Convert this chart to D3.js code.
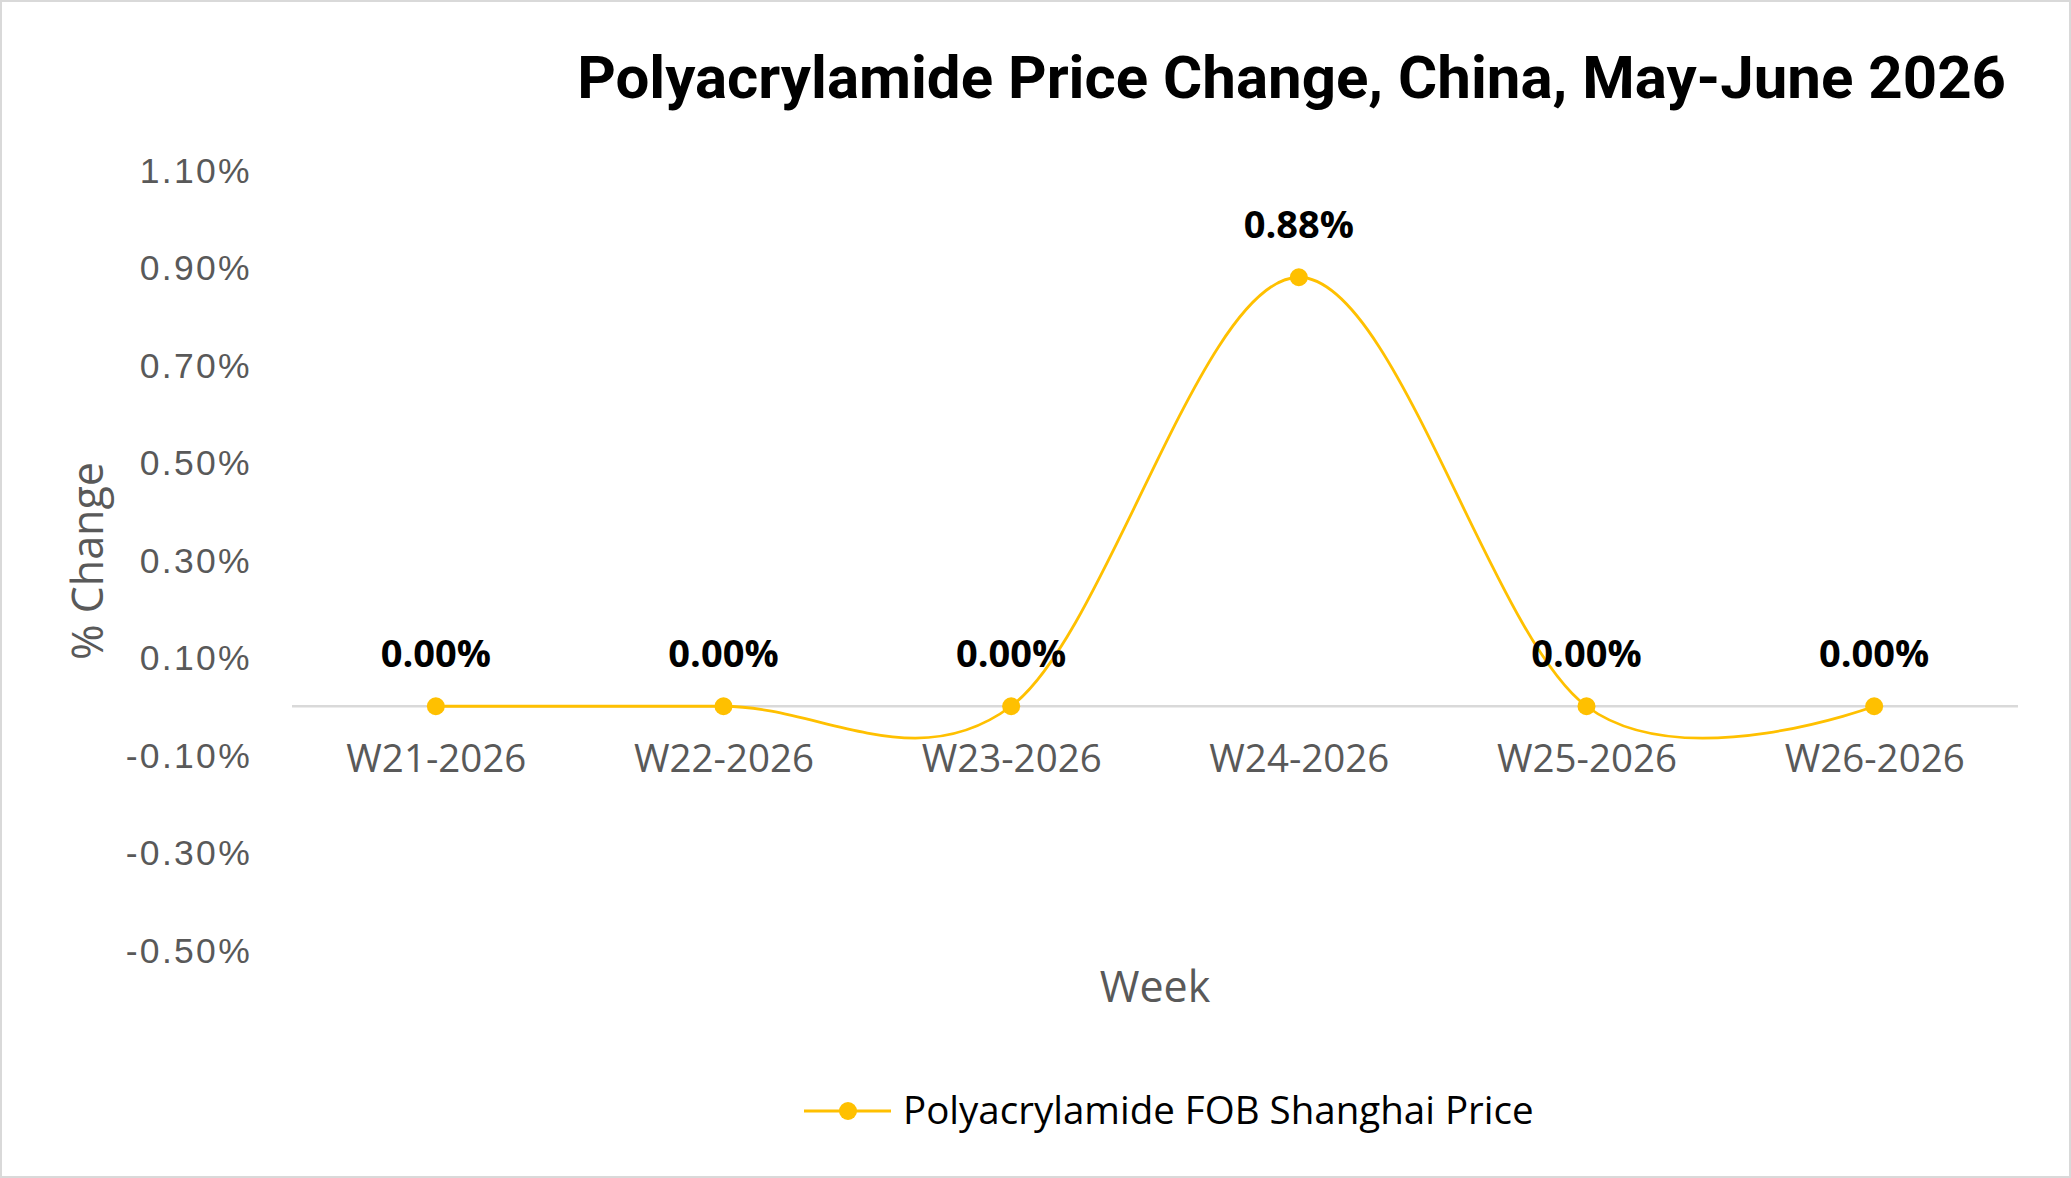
<!DOCTYPE html>
<html>
<head>
<meta charset="utf-8">
<script src="https://cdn.jsdelivr.net/npm/d3@7"></script>
<style>
  html, body { margin: 0; padding: 0; background: #fff; }
  svg { display: block; }
</style>
</head>
<body>
<div id="chart"></div>
<script>
const weeks = ["W21-2026", "W22-2026", "W23-2026", "W24-2026", "W25-2026", "W26-2026"];
const priceChange = [0.00, 0.00, 0.00, 0.88, 0.00, 0.00];
const yTicks = [-0.5, -0.3, -0.1, 0.1, 0.3, 0.5, 0.7, 0.9, 1.1];
const seriesName = "Polyacrylamide FOB Shanghai Price";
const titleText = "Polyacrylamide Price Change, China, May-June 2026";

const fullwidth = 2071;
const fullheight = 1178;
const plot = {left: 292, right: 2018, top: 170, bottom: 950};
const lineColor = "#FFC000";
const axisGrey = "#595959";

const svg = d3.select("#chart").append("svg")
  .attr("width", fullwidth)
  .attr("height", fullheight);

svg.append("rect")
  .attr("x", 1).attr("y", 1)
  .attr("width", fullwidth - 2).attr("height", fullheight - 2)
  .attr("fill", "#fff")
  .attr("stroke", "#d9d9d9")
  .attr("stroke-width", 2);

var x = d3.scalePoint().domain(weeks).range([plot.left, plot.right]).padding(0.5);
var y = d3.scaleLinear().domain([-0.5, 1.1]).range([plot.bottom, plot.top]);

// title
svg.append("text")
  .attr("x", 2006).attr("y", 98)
  .attr("text-anchor", "end")
  .style("font-family", "Roboto, sans-serif")
  .style("font-weight", "bold")
  .style("font-size", "60px")
  .attr("fill", "#000")
  .text(titleText);

// y axis labels (no axis line)
var yAxis = d3.axisLeft(y).tickValues(yTicks).tickSize(0).tickPadding(0)
  .tickFormat(d => d.toFixed(2) + "%");
var gy = svg.append("g").attr("transform", "translate(252,0)").call(yAxis);
gy.select(".domain").remove();
gy.selectAll("text")
  .attr("dy", "0.35em")
  .style("font-family", "'Liberation Sans', Arial, sans-serif")
  .style("font-size", "35.5px")
  .style("letter-spacing", "2.3px")
  .attr("fill", axisGrey);

// zero line as x axis
svg.append("line")
  .attr("x1", plot.left).attr("x2", plot.right)
  .attr("y1", y(0)).attr("y2", y(0))
  .attr("stroke", "#d9d9d9").attr("stroke-width", 2.5);

var xAxis = d3.axisBottom(x).tickSize(0).tickPadding(0);
var gx = svg.append("g").attr("transform", "translate(0,759)").call(xAxis);
gx.select(".domain").remove();
gx.selectAll("text")
  .attr("dy", "0.35em")
  .style("font-family", "'Open Sans', sans-serif")
  .style("font-size", "38.5px")
  .attr("fill", axisGrey);

// axis titles
svg.append("text")
  .attr("transform", "translate(88,561) rotate(-90)")
  .attr("text-anchor", "middle")
  .attr("dy", "0.35em")
  .style("font-family", "'Open Sans', sans-serif")
  .style("font-size", "43px")
  .attr("fill", axisGrey)
  .text("% Change");

svg.append("text")
  .attr("x", (plot.left + plot.right) / 2).attr("y", 987)
  .attr("text-anchor", "middle")
  .attr("dy", "0.35em")
  .style("font-family", "'Open Sans', sans-serif")
  .style("font-size", "43px")
  .attr("fill", axisGrey)
  .text("Week");

// series line
var line = d3.line()
  .x((d, i) => x(weeks[i]))
  .y(d => y(d))
  .curve(d3.curveCardinal.tension(0));

svg.append("path")
  .datum(priceChange)
  .attr("fill", "none")
  .attr("stroke", lineColor)
  .attr("stroke-width", 2.8)
  .attr("d", line);

svg.selectAll("circle.pt")
  .data(priceChange)
  .enter().append("circle")
  .attr("class", "pt")
  .attr("cx", (d, i) => x(weeks[i]))
  .attr("cy", d => y(d))
  .attr("r", 9)
  .attr("fill", lineColor);

svg.selectAll("text.lbl")
  .data(priceChange)
  .enter().append("text")
  .attr("class", "lbl")
  .attr("x", (d, i) => x(weeks[i]))
  .attr("y", d => y(d) - 39)
  .attr("text-anchor", "middle")
  .style("font-family", "'Open Sans', sans-serif")
  .style("font-weight", "bold")
  .style("font-size", "38px")
  .attr("fill", "#000")
  .text(d => d.toFixed(2) + "%");

// legend
var legend = svg.append("g").attr("class", "legend");
legend.append("line")
  .attr("x1", 804).attr("x2", 891)
  .attr("y1", 1111).attr("y2", 1111)
  .attr("stroke", lineColor).attr("stroke-width", 2.8);
legend.append("circle")
  .attr("cx", 848).attr("cy", 1111).attr("r", 9)
  .attr("fill", lineColor);
legend.append("text")
  .attr("x", 903).attr("y", 1111)
  .attr("dy", "0.35em")
  .style("font-family", "'Open Sans', sans-serif")
  .style("font-size", "38.5px")
  .attr("fill", "#000")
  .text(seriesName);
</script>
</body>
</html>
